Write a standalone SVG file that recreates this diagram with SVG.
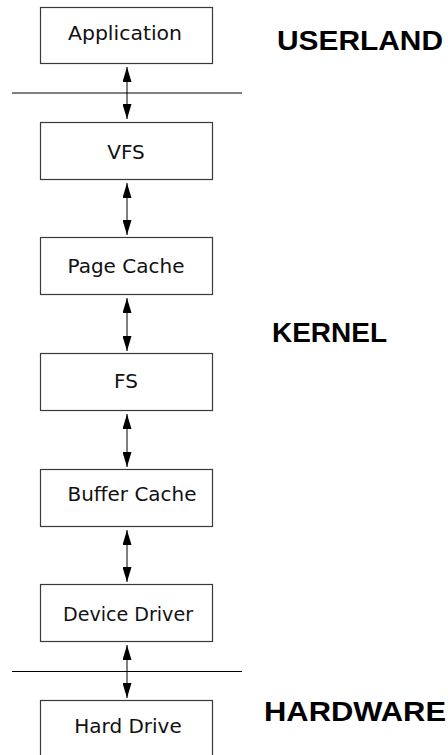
<svg xmlns="http://www.w3.org/2000/svg" width="448" height="755" viewBox="0 0 448 755">
<style>
.box{fill:#fff;stroke:#3a3a3a;stroke-width:1.2}
.lbl{font-family:"DejaVu Sans",sans-serif;font-size:20px;fill:#111;text-anchor:middle}
.zone{font-family:"Liberation Sans",Arial,sans-serif;font-weight:bold;font-size:28px;fill:#000}
.sep{stroke:#000;stroke-width:1}
.conn{stroke:#000;stroke-width:1;fill:none;marker-start:url(#ah);marker-end:url(#ah)}
</style>
<defs>
<marker id="ah" markerUnits="userSpaceOnUse" viewBox="0 0 15 9" refX="15" refY="4.5" markerWidth="15" markerHeight="9" orient="auto-start-reverse">
<path d="M0,0 L15,4.5 L0,9 Z" fill="#000"/>
</marker>
</defs>
<rect width="448" height="755" fill="#fff"/>
<line class="sep" x1="12" y1="93" x2="242" y2="93"/>
<line class="sep" x1="12" y1="671.5" x2="242" y2="671.5"/>
<g id="app"><rect class="box" x="40.5" y="7.5" width="172" height="56"/><text class="lbl" x="125" y="40" textLength="114" lengthAdjust="spacingAndGlyphs">Application</text></g>
<g id="vfs"><rect class="box" x="40.5" y="122.5" width="172" height="57"/><text class="lbl" x="126" y="159">VFS</text></g>
<g id="pagecache"><rect class="box" x="40.5" y="237.5" width="172" height="57"/><text class="lbl" x="126" y="273">Page Cache</text></g>
<g id="fs"><rect class="box" x="40.5" y="353.5" width="172" height="57"/><text class="lbl" x="126" y="388">FS</text></g>
<g id="buffercache"><rect class="box" x="40.5" y="469.5" width="172" height="57"/><text class="lbl" x="132" y="501" textLength="129" lengthAdjust="spacingAndGlyphs">Buffer Cache</text></g>
<g id="devicedriver"><rect class="box" x="40.5" y="584.5" width="172" height="57"/><text class="lbl" x="128" y="621" textLength="130" lengthAdjust="spacingAndGlyphs">Device Driver</text></g>
<g id="harddrive"><rect class="box" x="40.5" y="700.5" width="172" height="60"/><text class="lbl" x="128" y="733">Hard Drive</text></g>
<text class="zone" x="277" y="50" textLength="166" lengthAdjust="spacingAndGlyphs">USERLAND</text>
<text class="zone" x="272" y="342" textLength="115" lengthAdjust="spacingAndGlyphs">KERNEL</text>
<text class="zone" x="264" y="721" textLength="182" lengthAdjust="spacingAndGlyphs">HARDWARE</text>
<g id="connectors">
<path class="conn" d="M127,67 L127,119"/>
<path class="conn" d="M127,183 L127,235"/>
<path class="conn" d="M127,298 L127,351"/>
<path class="conn" d="M127,414 L127,467"/>
<path class="conn" d="M127,530 L127,582"/>
<path class="conn" d="M127,645 L127,698"/>
</g>
</svg>
